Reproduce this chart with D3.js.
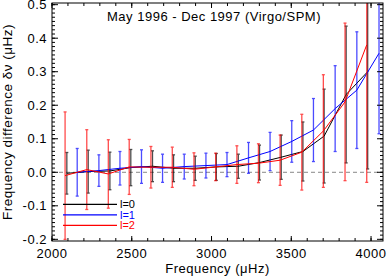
<!DOCTYPE html>
<html lang="en">

<head>
    <meta charset="utf-8" />
    <script src="https://cdnjs.cloudflare.com/ajax/libs/d3/7.8.5/d3.min.js"></script>
    <style type="text/css">
        html,
        body {
            margin: 0;
            background: white;
            overflow: hidden;
        }

        text {
            font-family: "Liberation Sans", Arial, sans-serif;
            letter-spacing: 0.5px;
        }
    </style>
</head>

<body>
    <div class="viz-box"></div>
    <script type="text/javascript">
        // mode frequencies (muHz) for each degree
        var freqL0 = [2093, 2227, 2363, 2494, 2630, 2762, 2898, 3030, 3168, 3301, 3437, 3573, 3706, 3844, 3979];
        var freqL1 = [2158, 2294, 2426, 2561, 2693, 2829, 2965, 3097, 3232, 3367, 3503, 3639, 3775, 3911, 4050];
        var freqL2 = [2082, 2218, 2353, 2484, 2620, 2754, 2890, 3026, 3159, 3294, 3430, 3566, 3701, 3837, 3973];

        // frequency differences and their errors (muHz)
        var diffL0 = [-0.003, 0.002, 0.004, 0.014, 0.018, 0.012, 0.012, 0.016, 0.018, 0.029, 0.045, 0.062, 0.108, 0.232, 0.30];
        var errL0 = [0.062, 0.064, 0.056, 0.054, 0.046, 0.040, 0.036, 0.040, 0.036, 0.052, 0.066, 0.088, 0.140, 0.204, 0.29];
        var diffL1 = [0.0, 0.005, 0.012, 0.017, 0.012, 0.017, 0.020, 0.023, 0.043, 0.062, 0.092, 0.126, 0.190, 0.245, 0.355];
        var errL1 = [0.071, 0.047, 0.050, 0.050, 0.042, 0.037, 0.037, 0.036, 0.046, 0.057, 0.062, 0.094, 0.128, 0.174, 0.24];
        var diffL2 = [-0.010, 0.008, -0.005, 0.016, 0.015, 0.015, 0.009, 0.016, 0.023, 0.027, 0.036, 0.060, 0.123, 0.210, 0.38];
        var errL2 = [0.190, 0.119, 0.102, 0.082, 0.062, 0.060, 0.049, 0.041, 0.056, 0.058, 0.075, 0.113, 0.168, 0.235, 0.41];

        var legendLabels = ["l=0", "l=1", "l=2"];
        var seriesColors = ["#000000", "#0000ff", "#ff0000"];
        var xTickValues = [2000, 2500, 3000, 3500, 4000];
        var yTickValues = [-0.2, -0.1, 0.0, 0.1, 0.2, 0.3, 0.4, 0.5];

        var series = [
            { label: legendLabels[0], color: seriesColors[0], freq: freqL0, diff: diffL0, err: errL0 },
            { label: legendLabels[1], color: seriesColors[1], freq: freqL1, diff: diffL1, err: errL1 },
            { label: legendLabels[2], color: seriesColors[2], freq: freqL2, diff: diffL2, err: errL2 }
        ];

        let width = 387, height = 279;
        let margins = { left: 52, right: 4, top: 3, bottom: 38 };
        let innerWidth = width - margins.left - margins.right;
        let innerHeight = height - margins.top - margins.bottom;

        var svg = d3.select("div.viz-box")
            .append("svg")
            .attr("width", width)
            .attr("height", height)
            .style("display", "block");

        var g = svg.append("g")
            .attr("transform", "translate(" + margins.left + "," + margins.top + ")");

        var x = d3.scaleLinear().domain([2000, 4075]).range([0, innerWidth]);
        var y = d3.scaleLinear().domain([-0.205, 0.505]).range([innerHeight, 0]);

        g.append("clipPath").attr("id", "plotClip")
            .append("rect")
            .attr("width", innerWidth)
            .attr("height", innerHeight);

        // zero reference
        g.append("line")
            .attr("x1", 0).attr("x2", innerWidth)
            .attr("y1", y(0)).attr("y2", y(0))
            .attr("stroke", "#888")
            .attr("stroke-dasharray", "4,3");

        var plot = g.append("g").attr("clip-path", "url(#plotClip)");

        series.forEach(function (s) {
            var pts = s.freq.map(function (f, i) { return { f: f, v: s.diff[i], e: s.err[i] }; });

            var bars = plot.append("g")
                .attr("stroke", s.color)
                .attr("stroke-width", 1.3)
                .attr("opacity", 0.7);
            bars.selectAll("line.bar")
                .data(pts).enter()
                .append("line")
                .attr("x1", function (d) { return x(d.f); })
                .attr("x2", function (d) { return x(d.f); })
                .attr("y1", function (d) { return y(d.v - d.e); })
                .attr("y2", function (d) { return y(d.v + d.e); });
            // little caps
            bars.selectAll("line.top")
                .data(pts).enter()
                .append("line")
                .attr("x1", function (d) { return x(d.f) - 1.5; })
                .attr("x2", function (d) { return x(d.f) + 1.5; })
                .attr("y1", function (d) { return y(d.v + d.e); })
                .attr("y2", function (d) { return y(d.v + d.e); });
            bars.selectAll("line.bot")
                .data(pts).enter()
                .append("line")
                .attr("x1", function (d) { return x(d.f) - 1.5; })
                .attr("x2", function (d) { return x(d.f) + 1.5; })
                .attr("y1", function (d) { return y(d.v - d.e); })
                .attr("y2", function (d) { return y(d.v - d.e); });

            plot.append("path")
                .datum(pts)
                .attr("fill", "none")
                .attr("stroke", s.color)
                .attr("stroke-width", 1)
                .attr("d", d3.line()
                    .x(function (d) { return x(d.f); })
                    .y(function (d) { return y(d.v); }));
        });

        // axes, IDL style: inward ticks on all four sides
        var xMinor = d3.range(2000, 4076, 100);
        var yMinor = d3.range(-0.2, 0.5001, 0.0125);

        function tickSet(vals, len, horizontal, side) {
            g.append("g").selectAll("line")
                .data(vals).enter()
                .append("line")
                .attr("stroke", "#000")
                .attr("stroke-width", 1)
                .attr("x1", function (d) { return horizontal ? x(d) : (side ? innerWidth : 0); })
                .attr("x2", function (d) { return horizontal ? x(d) : (side ? innerWidth - len : len); })
                .attr("y1", function (d) { return horizontal ? (side ? 0 : innerHeight) : y(d); })
                .attr("y2", function (d) { return horizontal ? (side ? len : innerHeight - len) : y(d); });
        }
        tickSet(xMinor, 3, true, false);
        tickSet(xMinor, 3, true, true);
        tickSet(xTickValues, 5, true, false);
        tickSet(xTickValues, 5, true, true);
        tickSet(yMinor, 3, false, false);
        tickSet(yMinor, 3, false, true);
        tickSet(yTickValues, 6, false, false);
        tickSet(yTickValues, 6, false, true);

        g.append("rect")
            .attr("width", innerWidth)
            .attr("height", innerHeight)
            .attr("fill", "none")
            .attr("stroke", "#000")
            .attr("stroke-width", 1);

        // tick labels
        g.append("g").selectAll("text")
            .data(xTickValues).enter()
            .append("text")
            .attr("x", function (d) { return x(d); })
            .attr("y", innerHeight + 17)
            .attr("text-anchor", "middle")
            .style("font-size", "13px")
            .text(function (d) { return d3.format("d")(d); });

        g.append("g").selectAll("text")
            .data(yTickValues).enter()
            .append("text")
            .attr("x", -5)
            .attr("y", function (d) { return y(d); })
            .attr("dy", "0.36em")
            .attr("text-anchor", "end")
            .style("font-size", "13px")
            .text(function (d) { return d.toFixed(1); });

        svg.append("text")
            .attr("x", 214)
            .attr("y", 20.5)
            .attr("text-anchor", "middle")
            .style("font-size", "13px")
            .text("May 1996 - Dec 1997 (Virgo/SPM)");

        svg.append("text")
            .attr("x", margins.left + innerWidth / 2)
            .attr("y", 273)
            .attr("text-anchor", "middle")
            .style("font-size", "13px")
            .text("Frequency (\u03bcHz)");

        svg.append("text")
            .attr("transform", "translate(12," + (margins.top + innerHeight / 2) + ") rotate(-90)")
            .attr("text-anchor", "middle")
            .style("font-size", "13.5px")
            .text("Frequency difference \u03b4\u03bd (\u03bcHz)");

        // legend
        var legend = g.append("g")
            .attr("transform", "translate(11," + (y(-0.1) - 1.5) + ")");
        series.forEach(function (s, i) {
            legend.append("line")
                .attr("x1", 0).attr("x2", 54)
                .attr("y1", i * 10.5).attr("y2", i * 10.5)
                .attr("stroke", s.color)
                .attr("stroke-width", 1.3);
            legend.append("text")
                .attr("x", 57)
                .attr("y", i * 10.5)
                .attr("dy", "0.36em")
                .attr("fill", s.color)
                .style("font-size", "11px")
                .style("letter-spacing", "0px")
                .text(s.label);
        });
    </script>
</body>

</html>
